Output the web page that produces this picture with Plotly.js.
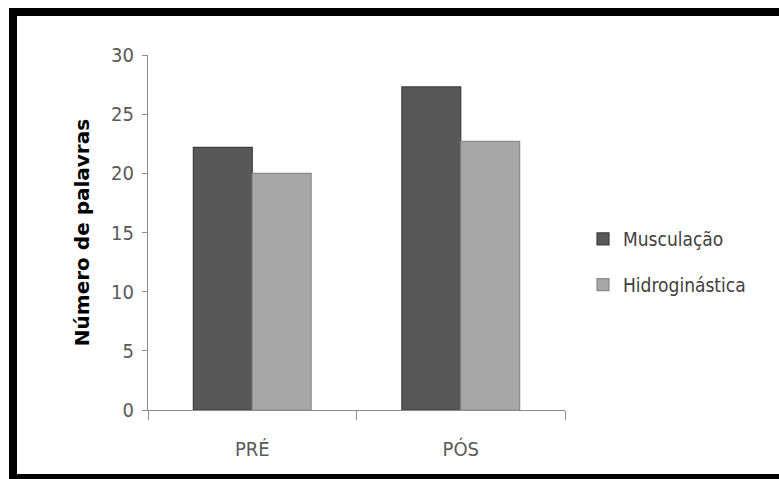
<!DOCTYPE html>
<html>
<head>
<meta charset="utf-8">
<script src="https://cdn.plot.ly/plotly-3.0.1.min.js"></script>
<style>
  html, body { margin: 0; padding: 0; background: #ffffff; }
  #chart { width: 779px; height: 479px; }
</style>
</head>
<body>
<div id="chart"></div>
<script>
// Word counts before (PRÉ) and after (PÓS) training, per group
const categories = ['PRÉ', 'PÓS'];
const musculacao = [22.2, 27.3];
const hidroginastica = [20.0, 22.7];
const seriesNames = ['Musculação', 'Hidroginástica'];
const yTickValues = [0, 5, 10, 15, 20, 25, 30];

const narrowFamily = '"DejaVu Sans Condensed", "Liberation Sans Narrow", "Open Sans", sans-serif';
const tickFont = { family: narrowFamily, size: 20, color: '#595959' };

const traces = [
  {
    type: 'bar',
    name: seriesNames[0],
    x: categories,
    y: musculacao,
    legendgroup: 'a',
    marker: { color: '#585858', line: { color: '#3e3e3e', width: 1.2 } },
    hoverinfo: 'skip'
  },
  {
    type: 'bar',
    name: seriesNames[1],
    x: categories,
    y: hidroginastica,
    legendgroup: 'b',
    marker: { color: '#a7a7a7', line: { color: '#8a8a8a', width: 1.2 } },
    hoverinfo: 'skip'
  }
];

// Frame around the figure, expressed in paper units of the plot area
const plotL = 148, plotR = 565, plotT = 55, plotB = 410;
const px = v => (v - plotL) / (plotR - plotL);
const py = v => (plotB - v) / (plotB - plotT);

const layout = {
  width: 779,
  height: 479,
  margin: { l: plotL, r: 779 - plotR, t: plotT, b: 479 - plotB },
  paper_bgcolor: '#ffffff',
  plot_bgcolor: '#ffffff',
  barmode: 'group',
  bargap: 0.435,
  bargroupgap: 0,
  showlegend: true,
  legend: {
    x: px(583), xanchor: 'left',
    y: py(262), yanchor: 'middle',
    font: { family: narrowFamily, size: 19, color: '#404040' },
    traceorder: 'grouped',
    tracegroupgap: 18,
    bgcolor: 'rgba(0,0,0,0)',
    itemclick: false
  },
  xaxis: {
    type: 'category',
    showgrid: false,
    showline: true,
    linecolor: '#8c8c8c',
    linewidth: 1,
    ticks: 'outside',
    tickson: 'boundaries',
    ticklen: 9,
    tickcolor: '#8c8c8c',
    ticklabelstandoff: 21,
    tickfont: tickFont,
    zeroline: false,
    fixedrange: true
  },
  yaxis: {
    range: [0, 30],
    tickvals: yTickValues,
    showgrid: false,
    showline: true,
    linecolor: '#8c8c8c',
    linewidth: 1,
    ticks: 'outside',
    ticklen: 5,
    tickcolor: '#8c8c8c',
    ticklabelstandoff: 4,
    tickfont: tickFont,
    zeroline: false,
    fixedrange: true,
    title: {
      text: 'Número de palavras',
      font: { family: '"DejaVu Sans", "Liberation Sans", sans-serif', size: 20, color: '#000000', weight: 'bold' },
      standoff: 16
    }
  },
  shapes: [
    {
      type: 'rect', xref: 'paper', yref: 'paper', layer: 'above',
      x0: px(13), x1: px(800), y0: py(478), y1: py(12),
      line: { color: '#000000', width: 8 },
      fillcolor: 'rgba(0,0,0,0)'
    }
  ]
};

Plotly.newPlot('chart', traces, layout, { displayModeBar: false, staticPlot: true });
</script>
</body>
</html>
